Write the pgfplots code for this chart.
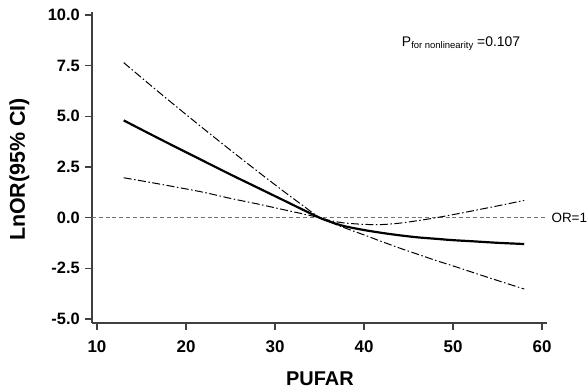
\documentclass[border=0pt]{standalone}
\usepackage{fontspec}
\setmainfont{Liberation Sans}
\usepackage{pgfplots}
\pgfplotsset{compat=1.18}
\begin{document}
\begin{tikzpicture}
\useasboundingbox (-92bp,-68bp) rectangle (495bp,323bp);
\begin{axis}[
  at={(0,0)}, anchor=south west,
  scale only axis, width=455bp, height=311bp,
  xmin=9.438, xmax=60.56, ymin=-5.197, ymax=10.148,
  axis lines=left, axis line style={-, line width=1.3pt, color=black!75},
  tick align=outside, major tick length=7bp,
  tick style={line width=1.1pt, color=black!75},
  xtick={10,20,30,40,50,60}, xticklabels={10,20,30,40,50,60},
  ytick={-5,-2.5,0,2.5,5,7.5,10},
  yticklabels={-5.0,-2.5,0.0,2.5,5.0,7.5,10.0},
  yticklabel style={font=\fontsize{16.5}{16.5}\selectfont\bfseries, anchor=east, inner sep=0pt, xshift=-5bp},
  xticklabel style={font=\fontsize{17}{17}\selectfont\bfseries, anchor=north, inner sep=0pt, yshift=-10bp},
  xlabel={PUFAR},
  xlabel style={at={(axis description cs:0.501,-0.1994)}, anchor=base, font=\fontsize{20}{20}\selectfont\bfseries},
  ylabel={LnOR(95\% CI)},
  ylabel style={at={(axis description cs:-0.1473,0.4936)}, anchor=base, rotate=0, font=\fontsize{21.5}{21.5}\selectfont\bfseries},
  clip=false,
]
% reference line
\addplot[color=black!55, line width=1.1pt, dash pattern=on 4bp off 2.8bp] coordinates {(9.438,0) (60.3,0)};
% upper CI
\addplot[black, line width=1.0pt, smooth, dash pattern=on 8bp off 2.5bp on 1.5bp off 2.5bp] coordinates {
(13,7.65) (16,6.54) (19,5.45) (22,4.38) (25,3.33) (28,2.30) (31,1.29) (33,0.64) (35,0)
(36,-0.18) (37,-0.36) (38,-0.53) (40,-0.85) (42,-1.18) (44,-1.5) (46,-1.8) (48,-2.1) (50,-2.38) (52,-2.67) (55,-3.1) (58,-3.52)};
% lower CI
\addplot[black, line width=1.0pt, smooth, dash pattern=on 8bp off 2.5bp on 1.5bp off 2.5bp] coordinates {
(13,1.97) (16,1.74) (19,1.5) (22,1.25) (25,0.95) (28,0.68) (31,0.39) (33,0.2) (35,0)
(36,-0.12) (37,-0.21) (38,-0.27) (40,-0.33) (42,-0.34) (44,-0.27) (46,-0.15) (48,-0.01) (50,0.15) (52,0.32) (55,0.58) (58,0.85)};
% estimate
\addplot[black, line width=2.2pt, smooth] coordinates {
(13,4.8) (16,4.12) (19,3.45) (22,2.79) (25,2.13) (28,1.49) (31,0.85) (33,0.42) (35,0)
(36,-0.17) (37,-0.32) (38,-0.44) (40,-0.61) (42,-0.75) (44,-0.87) (46,-0.97) (48,-1.04) (50,-1.11) (52,-1.16) (55,-1.24) (58,-1.30)};
\node[anchor=base west, inner sep=0pt, font=\fontsize{14}{14}\selectfont] at (axis cs:44.24,8.436)
  {P\raisebox{-1.5bp}{\fontsize{9.5}{9.5}\selectfont for nonlinearity} =0.107};
\node[anchor=west, inner sep=0pt, font=\fontsize{13.5}{13.5}\selectfont] at (axis cs:61.05,0) {OR=1};
\end{axis}
\end{tikzpicture}
\end{document}
